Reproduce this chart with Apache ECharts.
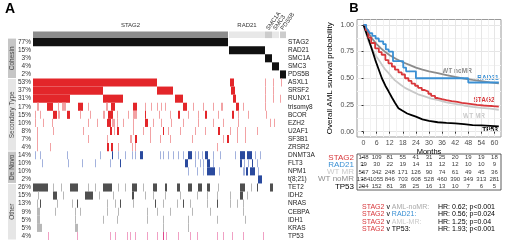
<!DOCTYPE html>
<html>
<head>
<meta charset="utf-8">
<script src="https://cdn.jsdelivr.net/npm/echarts@6/dist/echarts.min.js"></script>
<style>html,body{margin:0;padding:0;background:#fff}#chart{width:520px;height:240px}</style>
</head>
<body>
<div id="chart"></div>
<script>
// ---- panel A: oncoprint ----
var genes = ['STAG2','RAD21','SMC1A','SMC3','PDS5B','ASXL1','SRSF2','RUNX1','trisomy8','BCOR','EZH2','U2AF1','SF3B1','ZRSR2','DNMT3A','FLT3','NPM1','t(8;21)','TET2','IDH2','NRAS','CEBPA','IDH1','KRAS','TP53'];
var percents = ['77%','15%','3%','4%','2%','53%','37%','31%','17%','15%','10%','8%','7%','4%','14%','10%','10%','2%','26%','15%','13%','9%','5%','5%','4%'];
var geneGroups = [['Cohesin',0,4],['Secondary Type',5,13],['De Novo',14,17],['Other',18,24]];
// patient columns of each cohesin gene block
var cohesinBlocks = [['STAG2',0,195],['RAD21',196,232],['SMC1A',232,239],['SMC3',239,246],['PDS5B',247,253]];
var nCols = 253;

// mutated patient runs per row: [fromCol, toCol, light(1)/dark(0)]
var mutRuns = {
  'STAG2': [[0,195,0]],
  'RAD21': [[196,232,0]],
  'SMC1A': [[232,239,0]],
  'SMC3': [[239,246,0]],
  'PDS5B': [[247,253,0]],
  'ASXL1': [[0,124,0],[197,201,0],[232,233,1],[240,241,1],[248,249,1]],
  'SRSF2': [[0,70,0],[124,140,0],[198,202,0],[232,233,1],[240,241,1]],
  'RUNX1': [[0,37,0],[70,90,0],[142,150,0],[200,203,0],[232,233,1],[240,241,1],[247,248,1]],
  'trisomy8': [[4,6,1],[14,20,0],[25,26,1],[29,33,1],[45,50,0],[55,56,1],[73,75,1],[78,82,0],[100,104,0],[112,113,1],[118,119,1],[124,125,1],[128,129,1],[132,133,1],[150,154,0],[160,161,1],[170,171,1],[180,181,1],[188,190,1],[203,206,0],[210,211,1],[232,233,1]],
  'BCOR': [[2,3,1],[7,8,1],[20,24,0],[25,27,1],[34,37,0],[47,48,1],[57,58,1],[70,72,1],[75,80,0],[84,85,1],[95,96,1],[100,104,1],[112,113,0],[126,127,1],[137,138,1],[145,147,0],[155,156,1],[165,166,1],[172,174,0],[185,186,1],[199,201,0],[205,206,1],[215,216,1],[233,234,1]],
  'EZH2': [[2,3,1],[10,11,1],[19,20,1],[55,56,1],[64,65,1],[74,78,0],[79,82,1],[84,85,1],[90,91,1],[100,101,1],[112,115,0],[120,121,1],[128,129,1],[138,139,1],[150,151,1],[165,166,1],[180,181,1],[190,191,1],[205,206,1],[237,238,1],[241,242,1]],
  'U2AF1': [[4,5,1],[20,21,1],[50,51,1],[77,79,0],[81,82,1],[84,86,0],[100,101,1],[110,111,1],[117,118,1],[130,131,0],[135,136,1],[147,148,1],[162,163,1],[172,173,1],[185,187,0],[197,198,1],[204,205,1],[212,213,1],[224,225,1]],
  'SF3B1': [[4,5,1],[55,56,1],[74,75,1],[97,99,1],[102,104,0],[117,118,1],[127,128,1],[137,138,1],[159,160,1],[190,191,1],[194,196,0],[204,205,1],[212,213,1]],
  'ZRSR2': [[4,5,1],[17,18,1],[74,76,0],[78,80,0],[85,86,1],[99,100,1],[102,103,1],[184,185,1]],
  'DNMT3A': [[2,3,1],[7,8,1],[34,35,1],[67,68,1],[79,80,0],[85,86,1],[92,93,1],[99,100,1],[102,103,1],[107,110,0],[127,128,1],[130,131,1],[135,136,1],[140,141,1],[145,146,1],[150,151,1],[155,159,0],[162,163,1],[165,166,1],[169,170,1],[172,175,0],[180,181,1],[187,188,1],[202,203,1],[207,212,0],[214,219,0],[222,223,1],[227,228,1]],
  'FLT3': [[9,10,1],[35,36,1],[49,50,1],[62,63,1],[77,78,1],[87,88,0],[152,155,0],[162,163,1],[167,168,1],[170,171,1],[174,177,0],[180,181,1],[207,209,0],[211,212,1],[215,216,1],[219,220,0],[224,225,1]],
  'NPM1': [[155,156,1],[164,165,1],[170,171,1],[174,182,0],[186,187,1],[210,212,1],[213,215,0],[217,222,0],[225,226,1]],
  't(8;21)': [[225,229,0]],
  'TET2': [[0,15,0],[20,21,1],[28,29,1],[37,45,0],[55,56,1],[62,63,1],[70,79,0],[85,86,1],[92,93,1],[99,104,0],[110,111,1],[120,124,0],[132,134,0],[144,147,0],[155,159,0],[165,169,0],[174,177,0],[185,186,1],[207,212,0],[218,219,1],[224,225,0],[237,240,0]],
  'IDH2': [[5,6,1],[20,24,0],[30,31,1],[52,60,0],[66,67,1],[80,81,1],[99,101,0],[112,113,1],[120,121,1],[132,133,1],[147,148,1],[164,165,1],[174,175,1],[184,185,1],[197,198,1],[207,210,0],[214,215,1]],
  'NRAS': [[4,5,1],[7,8,0],[24,25,1],[39,40,1],[44,45,0],[74,75,1],[82,83,1],[87,88,0],[100,101,1],[122,123,0],[130,131,1],[144,145,1],[150,151,0],[157,158,1],[174,175,1],[184,185,0],[197,198,1],[204,205,1],[210,211,1]],
  'CEBPA': [[4,7,1],[22,23,1],[42,43,1],[47,48,1],[74,75,1],[85,86,1],[114,115,1],[124,125,1],[137,138,1],[159,160,1],[177,178,1],[210,211,1]],
  'IDH1': [[4,7,1],[42,43,1],[70,71,1],[84,85,1],[114,115,1],[130,131,1],[155,156,1],[184,185,1],[212,213,1]],
  'KRAS': [[4,9,1],[42,45,1],[130,131,1],[155,156,1]],
  'TP53': [[15,16,1],[44,45,1],[77,78,1],[82,83,1],[94,95,1],[97,98,1],[102,103,1],[114,115,1],[124,125,1],[130,131,0],[133,134,1],[145,146,1],[157,158,1],[164,165,1],[184,185,1],[190,191,1],[199,200,1],[210,211,1],[230,231,1]]
};

// ---- panel B: survival ----
var kmStag2 = [[0,1],[1,0.95],[2.2,0.88],[3.5,0.83],[5.3,0.78],[7,0.745],[8.3,0.72],[10,0.67],[11.4,0.64],[13,0.61],[14.4,0.58],[16,0.555],[17.5,0.535],[19,0.5],[20.6,0.475],[22,0.45],[23.6,0.43],[25,0.41],[26.7,0.39],[28,0.375],[29.7,0.355],[31,0.335],[32.8,0.315],[34,0.305],[35.9,0.295],[38,0.285],[40.4,0.278],[43,0.27],[45,0.265],[47,0.258],[49.6,0.25],[52,0.245],[55,0.242],[57.2,0.24],[59,0.235],[62,0.23]];
var kmRad21 = [[0,1],[1.2,0.974],[2,0.949],[2.8,0.923],[4,0.897],[5.5,0.872],[7,0.846],[9,0.82],[10.2,0.77],[11.5,0.75],[13.5,0.66],[18.2,0.6],[19.5,0.565],[24,0.5],[48,0.46],[62,0.46]];
var kmWtMr = [[0,1],[1,0.93],[2.2,0.85],[3.5,0.79],[5.3,0.72],[7,0.67],[8.3,0.63],[10,0.58],[11.4,0.55],[13,0.51],[14.4,0.48],[17,0.44],[19,0.41],[22,0.38],[25,0.35],[28,0.33],[31,0.31],[34.3,0.295],[38,0.275],[42,0.26],[46,0.245],[50,0.232],[54,0.222],[58,0.215],[62,0.205]];
var kmWtNoMr = [[0,1],[2,0.93],[4,0.87],[6,0.82],[8,0.78],[10,0.745],[12,0.715],[15,0.68],[18,0.65],[21,0.625],[24,0.6],[27,0.58],[30,0.565],[34,0.548],[38,0.53],[42,0.512],[46,0.497],[50,0.485],[54,0.474],[58,0.462],[62,0.452]];
var kmTp53 = [[0,1],[1,0.94],[2.4,0.86],[4,0.76],[5.4,0.67],[7,0.58],[8.4,0.5],[10,0.43],[11.4,0.38],[13,0.32],[14.4,0.27],[16,0.22],[17.5,0.2],[20,0.17],[22,0.155],[24,0.14],[27,0.115],[30,0.1],[34,0.088],[38,0.082],[42,0.077],[46,0.07],[50,0.062],[54,0.058],[58,0.054],[62,0.05]];

var monthTicks = [0,6,12,18,24,30,36,42,48,54,60];
var monthMinor = [3,9,15,21,27,33,39,45,51,57];
var survTicks = [0,0.25,0.5,0.75,1];
var survMinor = [0.125,0.375,0.625,0.875];

var riskNames = ['STAG2','RAD21','WT MR','WT noMR','TP53'];
var riskStag2 = [148,109,81,55,41,31,25,20,19,19,18];
var riskRad21 = [39,30,22,19,14,13,12,12,10,10,9];
var riskWtMr = [567,342,248,171,126,90,74,61,49,45,36];
var riskWtNoMr = [1384,1055,846,703,608,528,460,390,349,313,281];
var riskTp53 = [294,152,81,38,25,16,13,10,7,6,5];

var hrAgainst = ['AML-noMR:','RAD21:','AML-MR:','TP53:'];
var hrValues = ['HR: 0.62; p<0.001','HR: 0.56; p=0.024','HR: 1.25; p=0.04','HR: 1.93; p<0.001'];

// colours
var FONT = 'Liberation Sans, Arial, sans-serif';
var cRed = '#d8363a', cBlue = '#3a90d4', cGray = '#8c8c8c', cLight = '#c9c9c9', cBlack = '#000';
var groupPal = {
  'Cohesin': ['#111111','#111111'],
  'Secondary Type': ['#e3262a','#f2a2a4'],
  'De Novo': ['#2a4a9e','#a3b2dd'],
  'Other': ['#505050','#b8b8b8']
};
var tp53Pal = ['#e0458c','#f0a0c4'];
var headerFill = ['#8c8c8c','#e8e8e8','#cccccc','#e8e8e8','#cccccc'];
var groupFill = ['#c6c6c6','#e6e6e6','#c6c6c6','#e6e6e6'];

function groupOf(r) {
  for (var i = 0; i < geneGroups.length; i++) {
    if (r >= geneGroups[i][1] && r <= geneGroups[i][2]) return geneGroups[i][0];
  }
}

var cells = [];
genes.forEach(function (g, r) {
  var pal = g === 'TP53' ? tp53Pal : groupPal[groupOf(r)];
  mutRuns[g].forEach(function (run) {
    cells.push({ value: [run[0], run[1], r], itemStyle: { color: pal[run[2]] } });
  });
});

function renderCell(params, api) {
  var a = api.coord([api.value(0), api.value(2)]);
  var b = api.coord([api.value(1), api.value(2)]);
  var h = api.size([0, 1])[1];
  return {
    type: 'rect',
    shape: { x: a[0], y: a[1] - h / 2, width: Math.max(b[0] - a[0], 1), height: h },
    style: { fill: api.visual('color') }
  };
}

function renderHeader(params, api) {
  var i = params.dataIndex;
  var a = api.coord([api.value(0), 0]);
  var b = api.coord([api.value(1), 0]);
  var h = api.size([0, 1])[1];
  var top = a[1] - h / 2, w = b[0] - a[0];
  var small = w < 20;
  return {
    type: 'group',
    children: [
      { type: 'rect', shape: { x: a[0], y: top, width: w, height: h }, style: { fill: headerFill[i] } },
      {
        type: 'text',
        x: small ? a[0] + w / 2 - 1 : a[0] + w / 2,
        y: small ? top - 2 : top - 3,
        rotation: small ? Math.PI * 55 / 180 : 0,
        style: {
          text: cohesinBlocks[i][0], fill: '#333', fontSize: 6, fontFamily: FONT,
          align: small ? 'left' : 'center', verticalAlign: small ? 'middle' : 'bottom'
        }
      }
    ]
  };
}

function renderGroup(params, api) {
  var i = params.dataIndex;
  var a = api.coord([0, api.value(2)]);
  var b = api.coord([1, api.value(3)]);
  var h = api.size([0, 1])[1];
  var top = a[1] - h / 2 + 0.5, bottom = b[1] + h / 2 - 0.5;
  return {
    type: 'group',
    children: [
      { type: 'rect', shape: { x: a[0], y: top, width: b[0] - a[0], height: bottom - top }, style: { fill: groupFill[i] } },
      {
        type: 'text', x: (a[0] + b[0]) / 2, y: (top + bottom) / 2, rotation: Math.PI / 2,
        style: { text: geneGroups[i][0], fill: '#444', fontSize: 6.5, fontFamily: FONT, align: 'center', verticalAlign: 'middle' }
      }
    ]
  };
}

var riskData = [];
[riskStag2, riskRad21, riskWtMr, riskWtNoMr, riskTp53].forEach(function (row, r) {
  row.forEach(function (n, j) { riskData.push([monthTicks[j], r, n]); });
});

var riskColors = [cRed, cBlue, cLight, cGray, cBlack];
var hrColors = ['#a8a8a8', cBlue, cLight, cBlack];

var graphics = [
  { type: 'text', x: 10, y: 9, style: { text: 'A', fontSize: 14, fontWeight: 'bold', fontFamily: FONT, fill: '#000', align: 'center', verticalAlign: 'middle' } },
  { type: 'text', x: 354, y: 8, style: { text: 'B', fontSize: 13, fontWeight: 'bold', fontFamily: FONT, fill: '#000', align: 'center', verticalAlign: 'middle' } },
  { type: 'text', x: 457, y: 71.5, style: { text: 'WT noMR', fontSize: 6.5, fontWeight: 'bold', fontFamily: FONT, fill: cGray, align: 'center', verticalAlign: 'middle' } },
  { type: 'text', x: 488, y: 78.5, style: { text: 'RAD21', fontSize: 6.5, fontWeight: 'bold', fontFamily: FONT, fill: cBlue, align: 'center', verticalAlign: 'middle' } },
  { type: 'text', x: 484, y: 100, style: { text: 'STAG2', fontSize: 6.5, fontWeight: 'bold', fontFamily: FONT, fill: cRed, align: 'center', verticalAlign: 'middle' } },
  { type: 'text', x: 474, y: 116.5, style: { text: 'WT MR', fontSize: 6.5, fontWeight: 'bold', fontFamily: FONT, fill: cLight, align: 'center', verticalAlign: 'middle' } },
  { type: 'text', x: 490, y: 130, style: { text: 'TP53', fontSize: 6.5, fontWeight: 'bold', fontFamily: FONT, fill: cBlack, align: 'center', verticalAlign: 'middle' } }
];
hrAgainst.forEach(function (who, i) {
  graphics.push({
    type: 'text', x: 362, y: 207 + i * 7.35,
    style: {
      text: '{s|STAG2} v {o|' + who + '}', fontSize: 7, fontFamily: FONT, fill: '#000', verticalAlign: 'middle',
      rich: { s: { fill: cRed, fontSize: 7 }, o: { fill: hrColors[i], fontSize: 7 } }
    }
  });
  graphics.push({
    type: 'text', x: 438, y: 207 + i * 7.35,
    style: { text: hrValues[i], fontSize: 7, fontFamily: FONT, fill: '#000', verticalAlign: 'middle' }
  });
});

function kmSeries(data, color, step) {
  return {
    type: 'line', xAxisIndex: 3, yAxisIndex: 4, data: data, step: step ? 'end' : false,
    showSymbol: false, symbol: 'none', lineStyle: { color: color, width: 1.8 }, silent: true
  };
}

var option = {
  animation: false,
  textStyle: { fontFamily: FONT },
  grid: [
    { left: 33, top: 38.1, width: 253, height: 202.5 },
    { left: 33, top: 31.5, width: 253, height: 6.6 },
    { left: 8, top: 38.1, width: 8, height: 202.5 },
    { left: 357, top: 19.5, width: 144, height: 117.5, show: true, borderColor: '#9a9a9a', borderWidth: 1 },
    { left: 357, top: 154, width: 144, height: 36, show: true, borderColor: '#333', borderWidth: 0.8 }
  ],
  xAxis: [
    { type: 'value', gridIndex: 0, min: 0, max: nCols, show: false },
    { type: 'value', gridIndex: 1, min: 0, max: nCols, show: false },
    { type: 'value', gridIndex: 2, min: 0, max: 1, show: false },
    {
      type: 'value', gridIndex: 3, min: -3, max: 63,
      axisLine: { show: false },
      axisTick: { show: true, length: 2, customValues: monthTicks, lineStyle: { color: '#333' } },
      axisLabel: { customValues: monthTicks, fontSize: 7, color: '#4d4d4d', margin: 3 },
      splitLine: { show: true, lineStyle: { color: '#e6e6e6', width: 1 } },
      name: 'Months', nameLocation: 'middle', nameGap: 10, nameTextStyle: { fontSize: 7.5, color: '#000' }
    },
    {
      type: 'value', gridIndex: 3, min: -3, max: 63,
      axisLine: { show: false }, axisLabel: { show: false },
      axisTick: { show: false, customValues: monthMinor },
      splitLine: { show: true, lineStyle: { color: '#f2f2f2', width: 1 } }
    },
    { type: 'value', gridIndex: 4, min: -3, max: 63, show: false }
  ],
  yAxis: [
    {
      type: 'category', gridIndex: 0, data: genes, inverse: true, position: 'right',
      axisLine: { show: false }, axisTick: { show: false },
      axisLabel: { interval: 0, hideOverlap: false, fontSize: 6.5, color: '#222', margin: 2 }
    },
    {
      type: 'category', gridIndex: 0, data: percents, inverse: true, position: 'left',
      axisLine: { show: false }, axisTick: { show: false },
      axisLabel: { interval: 0, hideOverlap: false, fontSize: 6.5, color: '#333', margin: 2 }
    },
    { type: 'category', gridIndex: 1, data: ['cohesin'], show: false },
    { type: 'category', gridIndex: 2, data: genes, inverse: true, show: false },
    {
      type: 'value', gridIndex: 3, min: -0.05, max: 1.05,
      axisLine: { show: false },
      axisTick: { show: true, length: 2, customValues: survTicks, lineStyle: { color: '#333' } },
      axisLabel: { customValues: survTicks, fontSize: 7, color: '#4d4d4d', margin: 3, formatter: function (v) { return v.toFixed(2); } },
      splitLine: { show: true, lineStyle: { color: '#e6e6e6', width: 1 } },
      name: 'Overall AML survival probability', nameLocation: 'middle', nameGap: 23,
      nameTextStyle: { fontSize: 8, color: '#000' }
    },
    {
      type: 'value', gridIndex: 3, min: -0.05, max: 1.05,
      axisLine: { show: false }, axisLabel: { show: false },
      axisTick: { show: false, customValues: survMinor },
      splitLine: { show: true, lineStyle: { color: '#f2f2f2', width: 1 } }
    },
    {
      type: 'category', gridIndex: 4, inverse: true,
      data: riskNames.map(function (n, i) { return { value: n, textStyle: { color: riskColors[i] } }; }),
      axisLine: { show: false },
      axisTick: { show: true, length: 2, alignWithLabel: true, interval: 0, lineStyle: { color: '#333' } },
      axisLabel: { interval: 0, hideOverlap: false, fontSize: 8, margin: 3 }
    }
  ],
  series: [
    { type: 'custom', xAxisIndex: 0, yAxisIndex: 0, renderItem: renderCell, encode: { x: [0, 1], y: 2 }, data: cells, silent: true },
    { type: 'custom', xAxisIndex: 1, yAxisIndex: 2, renderItem: renderHeader, encode: { x: [0, 1], y: 2 },
      data: cohesinBlocks.map(function (b) { return [b[1], b[2], 0]; }), silent: true },
    { type: 'custom', xAxisIndex: 2, yAxisIndex: 3, renderItem: renderGroup, encode: { x: [0, 1], y: [2, 3] },
      data: geneGroups.map(function (g) { return [0, 1, g[1], g[2]]; }), silent: true },
    kmSeries(kmWtMr, cLight, false),
    kmSeries(kmWtNoMr, cGray, false),
    kmSeries(kmTp53, cBlack, false),
    kmSeries(kmStag2, cRed, true),
    kmSeries(kmRad21, cBlue, true),
    {
      type: 'scatter', xAxisIndex: 5, yAxisIndex: 6, data: riskData, symbolSize: 1,
      itemStyle: { color: 'rgba(0,0,0,0)' }, silent: true,
      label: { show: true, position: 'inside', fontSize: 6, color: '#000', formatter: function (p) { return p.value[2]; } }
    }
  ],
  graphic: graphics
};

var chart = echarts.init(document.getElementById('chart'));
chart.setOption(option);
</script>
</body>
</html>
